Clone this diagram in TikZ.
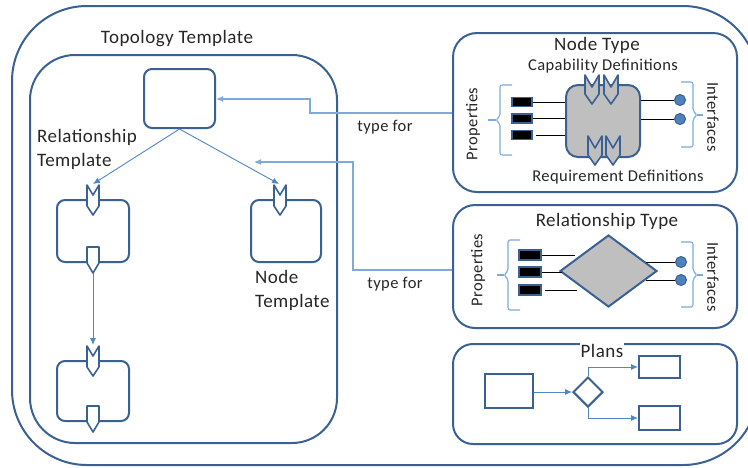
\documentclass[tikz,border=0pt]{standalone}
\usepackage{fontspec}
\setmainfont{Carlito}[LetterSpace=2.5]
\usetikzlibrary{arrows.meta,shapes.geometric}
\definecolor{frameblue}{HTML}{3A6193}
\definecolor{arrowblue}{HTML}{4F86C6}
\definecolor{paleblue}{HTML}{7DA9DC}
\definecolor{boxgray}{HTML}{BFBFBF}
\definecolor{dotblue}{HTML}{4F81BD}
\definecolor{txt}{HTML}{262626}
\tikzset{
  frame/.style={draw=frameblue, line width=2pt},
  tbox/.style={frame, rounded corners=8pt, fill=white, inner sep=0pt},
  pbox/.style={draw=frameblue, line width=2pt, fill=white, inner sep=0pt},
  big/.style={font=\fontsize{19}{24}\selectfont, text=txt, inner sep=0pt},
  mid/.style={font=\fontsize{16.5}{20}\selectfont, text=txt, inner sep=0pt},
  flow/.style={draw=arrowblue, line width=0.9pt, -{Latex[length=7pt,width=6pt]}},
  typefor/.style={draw=paleblue, line width=1.2pt, -{Latex[length=7pt,width=6pt]}},
  brace/.style={draw=paleblue, line width=1.1pt, rounded corners=2pt},
  wire/.style={draw=black, line width=0.9pt},
  prop/.style={draw=frameblue, fill=black, line width=1.8pt, minimum width=20pt, minimum height=9pt, inner sep=0pt},
  iface/.style={circle, draw=frameblue, fill=dotblue, line width=1pt, minimum size=11pt, inner sep=0pt},
  req/.pic={\path[draw=frameblue, line width=1.6pt, fill=white, line join=round]
     (-6,0) -- (0,10) -- (6,0) -- (6,21) -- (0,30) -- (-6,21) -- cycle;},
  cap/.pic={\path[draw=frameblue, line width=1.6pt, fill=white, line join=round]
     (-6,0) -- (6,0) -- (6,16) -- (0,26) -- (-6,16) -- cycle;},
  greq/.pic={\path[draw=frameblue, line width=1.6pt, fill=boxgray, line join=round]
     (-7,0) -- (0,12) -- (7,0) -- (7,19) -- (0,29) -- (-7,19) -- cycle;},
}
\begin{document}
\begin{tikzpicture}[x=1pt,y=-1pt]
\useasboundingbox (0,0) rectangle (748,467);
\clip (0,0) rectangle (748,467);

% outer frame (its right side lies beyond the picture's edge)
\draw[frame, rounded corners=75pt] (758,110) -- (758,6) -- (12,6) -- (12,465) -- (758,465) -- (758,360);

% topology template
\node[frame, rounded corners=45pt, minimum width=307pt, minimum height=388pt, inner sep=0pt] (topo) at (183.5,249) {};
\node[big] (topolbl) at (177,39) {Topology Template};

% node templates
\node[tbox, minimum width=71pt, minimum height=59pt] (top) at (179.5,98.5) {};
\node[tbox, minimum width=72pt, minimum height=62pt] (lbox) at (93,231) {};
\node[tbox, minimum width=70pt, minimum height=62pt] (rbox) at (286,231) {};
\node[tbox, minimum width=72pt, minimum height=60pt] (llbox) at (93,391) {};

\pic at (93,185) {req};
\pic at (280,185) {req};
\pic at (93,247) {cap};
\pic at (93,346) {req};
\pic at (93,406) {cap};
\coordinate (lreq) at (93,184);
\coordinate (rreq) at (279,184);
\coordinate (lcap) at (93,273);
\coordinate (llreq) at (93,345);

\node[big, align=left, anchor=west] (rtlbl) at (37,149) {Relationship\\Template};
\node[big, align=left, anchor=west] (ntlbl) at (255,290) {Node\\Template};

\draw[flow] (top.south) -- (lreq);
\draw[flow] (top.south) -- (rreq);
\draw[flow] (lcap) -- (llreq);

% Node Type
\node[frame, rounded corners=24pt, minimum width=284pt, minimum height=159pt, inner sep=0pt] (ntype) at (595,112.5) {};
\node[big] (ntlabel) at (597,45) {Node Type};
\node[mid] (capdef) at (603,66) {Capability Definitions};
\node[mid] (reqdef) at (618,177) {Requirement Definitions};
\node[draw=frameblue, line width=2pt, fill=boxgray, rounded corners=12pt, minimum width=74pt, minimum height=72pt, inner sep=0pt] (core) at (603,121) {};
\pic at (592,75) {greq};
\pic at (611,75) {greq};
\pic at (595,136) {greq};
\pic at (613,136) {greq};
\node[prop] (np1) at (522,102) {};
\node[prop] (np2) at (522,118.5) {};
\node[prop] (np3) at (522,135) {};
\draw[wire] (np1.east) -- (np1.east -| core.west);
\draw[wire] (np2.east) -- (np2.east -| core.west);
\draw[wire] ([xshift=3pt]np3.east) -- (np3.east -| core.west);
\node[iface] (ni1) at (680,100) {};
\node[iface] (ni2) at (680,119) {};
\draw[wire] (ni1.west -| core.east) -- (ni1.west);
\draw[wire] (ni2.west -| core.east) -- (ni2.west);
\draw[brace] (512,85) -- (500,85) -- (500,116) -- (496,120) -- (500,124) -- (500,155) -- (512,155);
\draw[draw=paleblue, line width=1.1pt] (488,120) -- (496,120);
\draw[brace] (681,82) -- (693,82) -- (693,111) -- (697,115) -- (693,119) -- (693,147) -- (681,147);
\draw[draw=paleblue, line width=1.1pt] (697,115) -- (703,115);
\node[mid, rotate=90] (nprop) at (473,124) {Properties};
\node[mid, rotate=-90] (nintf) at (713,117) {Interfaces};

% Relationship Type
\node[frame, rounded corners=22pt, minimum width=284pt, minimum height=123pt, inner sep=0pt] (rtype) at (595,266.5) {};
\node[big] (rtlabel) at (607,221) {Relationship Type};
\node[diamond, draw=frameblue, line width=2pt, fill=boxgray, minimum width=97pt, minimum height=72pt, inner sep=0pt] (rdia) at (608.5,271) {};
\node[prop, minimum width=22pt, minimum height=10pt] (rp1) at (530,255) {};
\node[prop, minimum width=22pt, minimum height=10pt] (rp2) at (530,272) {};
\node[prop, minimum width=22pt, minimum height=10pt] (rp3) at (530,290) {};
\draw[wire] (rp1.east) -- (575,255);
\draw[wire] (rp2.east) -- (562,272);
\draw[wire] ([xshift=3pt]rp3.east) -- (577,290);
\node[iface] (ri1) at (681,262) {};
\node[iface] (ri2) at (681,280) {};
\draw[wire] (646,262) -- (ri1.west);
\draw[wire] (646,280) -- (ri2.west);
\draw[brace] (520,240) -- (508,240) -- (508,271) -- (504,275) -- (508,279) -- (508,310) -- (520,310);
\draw[draw=paleblue, line width=1.1pt] (497,275) -- (504,275);
\draw[brace] (681,242) -- (693,242) -- (693,271) -- (697,275) -- (693,279) -- (693,307) -- (681,307);
\draw[draw=paleblue, line width=1.1pt] (697,275) -- (703,275);
\node[mid, rotate=90] (rprop) at (478,270) {Properties};
\node[mid, rotate=-90] (rintf) at (713,277) {Interfaces};

% Plans
\node[frame, rounded corners=20pt, minimum width=284pt, minimum height=100pt, inner sep=0pt] (plans) at (595,394) {};
\node[big, fill=white, inner xsep=1pt, inner ysep=1.5pt] (planslbl) at (602,351) {Plans};
\node[pbox, minimum width=48pt, minimum height=34pt] (pstart) at (509,391) {};
\node[diamond, draw=frameblue, line width=2pt, fill=white, minimum width=30pt, minimum height=30pt, inner sep=0pt] (pdec) at (588,392) {};
\node[pbox, minimum width=41pt, minimum height=22pt] (pa) at (659.5,367) {};
\node[pbox, minimum width=41pt, minimum height=24pt] (pb) at (659.5,418) {};
\draw[flow] (pstart.east |- pdec.west) -- (pdec.west);
\draw[flow] (pdec.north) |- (pa.west);
\draw[flow] (pdec.south) |- (pb.west);

% type for connectors
\draw[typefor] (ntype.west |- 0,113) -- (310,113) -- (310,99) -- (top.east |- 0,99);
\node[mid] (tf1) at (385,127) {type for};
\draw[typefor] (rtype.west |- 0,270) -- (353,270) -- (353,162) -- (254,162);
\node[mid] (tf2) at (395,284) {type for};
\end{tikzpicture}
\end{document}
